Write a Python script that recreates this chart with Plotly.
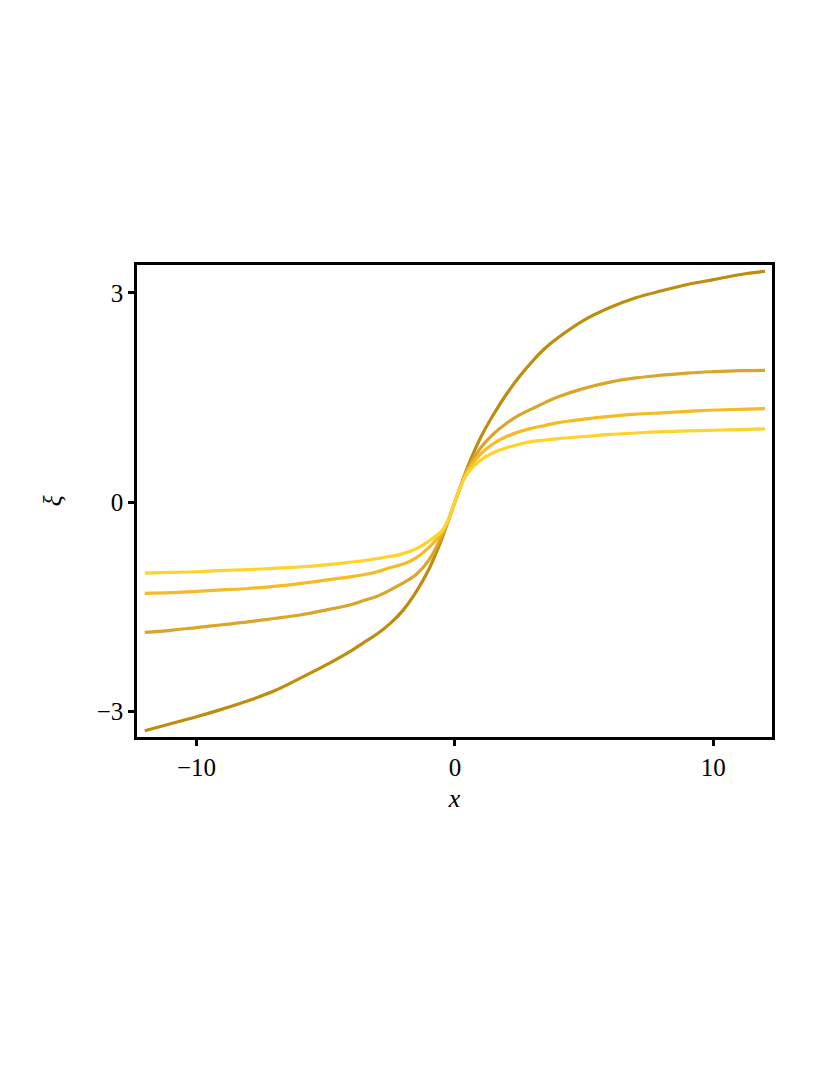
import plotly.graph_objects as go

x_vals = [-12, -11, -10, -9, -8, -7, -6, -5, -4, -3.5, -3, -2.5, -2, -1.5, -1, -0.5, -0.25, 0,
          0.25, 0.5, 1, 1.5, 2, 2.5, 3, 3.5, 4, 5, 6, 7, 8, 9, 10, 11, 12]

# xi values, one list per curve (darkest -> lightest)
xi_1 = [-3.28, -3.18, -3.08, -2.97, -2.85, -2.71, -2.53, -2.34, -2.13, -2.01, -1.89, -1.74, -1.55,
        -1.29, -0.96, -0.52, -0.26, 0,
        0.26, 0.51, 0.93, 1.26, 1.55, 1.80, 2.02, 2.21, 2.36, 2.61, 2.79, 2.93, 3.03, 3.12, 3.19,
        3.26, 3.31]
xi_2 = [-1.87, -1.84, -1.80, -1.76, -1.72, -1.67, -1.62, -1.55, -1.47, -1.41, -1.35, -1.26, -1.16,
        -1.04, -0.83, -0.48, -0.26, 0,
        0.26, 0.48, 0.78, 0.98, 1.13, 1.25, 1.34, 1.43, 1.51, 1.63, 1.72, 1.78, 1.82, 1.85, 1.87,
        1.885, 1.89]
xi_3 = [-1.31, -1.30, -1.28, -1.26, -1.24, -1.21, -1.17, -1.12, -1.07, -1.04, -1.00, -0.94, -0.89,
        -0.80, -0.65, -0.44, -0.25, 0,
        0.25, 0.45, 0.69, 0.84, 0.94, 1.01, 1.06, 1.10, 1.14, 1.19, 1.23, 1.26, 1.28, 1.30, 1.32,
        1.33, 1.34]
xi_4 = [-1.02, -1.01, -1.00, -0.98, -0.97, -0.95, -0.93, -0.90, -0.86, -0.84, -0.81, -0.78, -0.74,
        -0.67, -0.56, -0.41, -0.25, 0,
        0.25, 0.42, 0.60, 0.71, 0.78, 0.83, 0.87, 0.89, 0.91, 0.94, 0.97, 0.99, 1.01, 1.02, 1.03,
        1.04, 1.05]

curves = [xi_1, xi_2, xi_3, xi_4]
colors = ["#BF8D0E", "#DAA62A", "#F6BA25", "#FDD32C"]

fig = go.Figure()
for ys, col in zip(curves, colors):
    fig.add_trace(go.Scatter(x=x_vals, y=ys, mode="lines",
                             line=dict(color=col, width=3.2, shape="spline", smoothing=1.0),
                             showlegend=False))

axis_style = dict(showline=True, linecolor="black", linewidth=2.5, mirror=True,
                  ticks="outside", ticklen=6, tickwidth=2.5, tickcolor="black",
                  showgrid=False, zeroline=False,
                  tickfont=dict(family="Liberation Serif", size=25, color="black"))

fig.update_xaxes(range=[-12.3, 12.27], tickvals=[-10, 0, 10],
                 title=dict(text="<i>x</i>", font=dict(family="Liberation Serif", size=26, color="black"),
                            standoff=10),
                 **axis_style)
fig.update_yaxes(range=[-3.37, 3.40], tickvals=[-3, 0, 3],
                 title=dict(text="<i>ξ</i>", font=dict(family="Liberation Serif", size=26, color="black"),
                            standoff=28),
                 **axis_style)

fig.update_layout(width=830, height=1075, plot_bgcolor="white", paper_bgcolor="white",
                  margin=dict(l=129, r=66, t=257, b=346))

fig.write_html("out.html")
